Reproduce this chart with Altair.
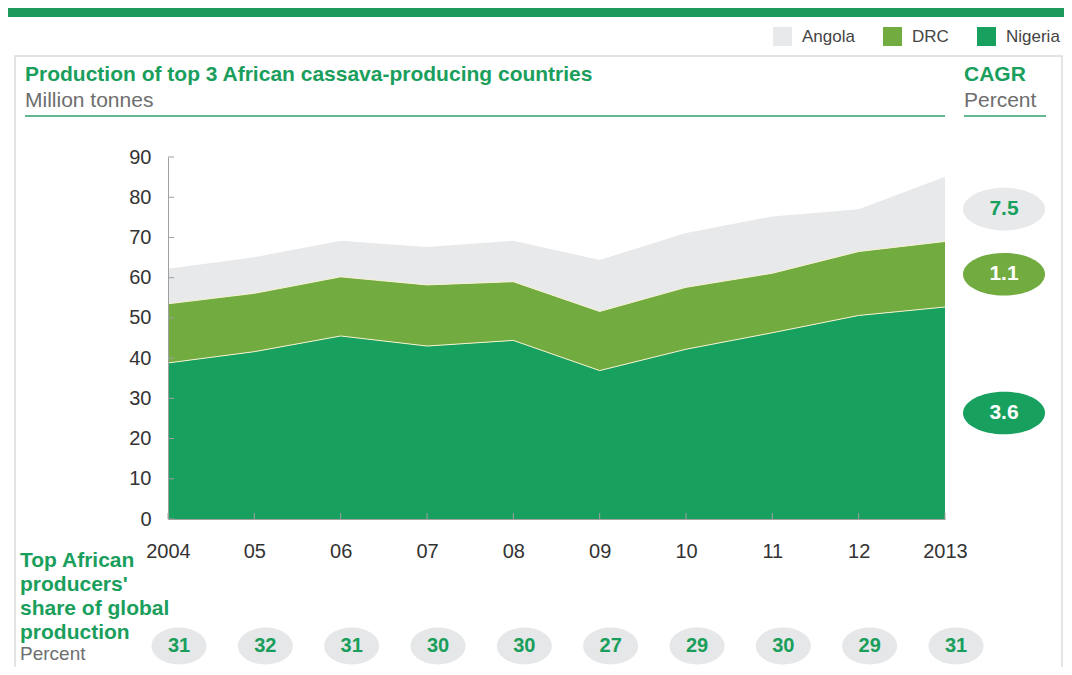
import altair as alt
import pandas as pd

# ---------------- data ----------------
years = [2004, 2005, 2006, 2007, 2008, 2009, 2010, 2011, 2012, 2013]
year_labels = ["2004", "05", "06", "07", "08", "09", "10", "11", "12", "2013"]
nigeria = [38.8, 41.6, 45.5, 43.0, 44.4, 36.9, 42.2, 46.3, 50.6, 52.7]
drc = [14.7, 14.5, 14.7, 15.2, 14.6, 14.7, 15.4, 14.8, 15.9, 16.3]
angola = [8.7, 9.0, 9.0, 9.4, 10.2, 12.8, 13.5, 14.1, 10.5, 16.1]
countries = ["Angola", "DRC", "Nigeria"]
colors = ["#E8E9EA", "#72AB3F", "#18A05E"]
cagr = [7.5, 1.1, 3.6]
cagr_text_colors = ["#18A05E", "#FFFFFF", "#FFFFFF"]
share = [31, 32, 31, 30, 30, 27, 29, 30, 29, 31]
y_ticks = [0, 10, 20, 30, 40, 50, 60, 70, 80, 90]

title_main = "Production of top 3 African cassava-producing countries"
title_unit = "Million tonnes"
cagr_title = "CAGR"
cagr_unit = "Percent"
share_caption = ["Top African", "producers'", "share of global", "production"]
share_unit = "Percent"

GREEN = "#1A9E5C"
GREY_TXT = "#6E6E6E"
FONT = "Liberation Sans"

# ---------------- tables ----------------
series = {"Nigeria": nigeria, "DRC": drc, "Angola": angola}
rank = {"Nigeria": 0, "DRC": 1, "Angola": 2}
rows = []
for c, vals in series.items():
    for lab, v in zip(year_labels, vals):
        rows.append({"label": lab, "country": c, "value": v, "rank": rank[c]})
df = pd.DataFrame(rows)

# boundaries between stacked layers
brows = []
for i, lab in enumerate(year_labels):
    brows.append({"label": lab, "edge": "n", "top": nigeria[i]})
    brows.append({"label": lab, "edge": "d", "top": nigeria[i] + drc[i]})
dfb = pd.DataFrame(brows)

# CAGR bubbles placed at the middle of each layer in the final year
n_last, d_last, a_last = nigeria[-1], drc[-1], angola[-1]
mids = {
    "Nigeria": n_last / 2,
    "DRC": n_last + d_last / 2,
    "Angola": n_last + d_last + a_last / 2,
}
dfc = pd.DataFrame({
    "country": countries,
    "cagr": [f"{v:.1f}" for v in cagr],
    "mid": [mids[c] for c in countries],
    "fill": colors,
    "tcol": cagr_text_colors,
})

dfs = pd.DataFrame({"label": year_labels, "share": share})
dft = pd.DataFrame({"v": y_ticks})
one = pd.DataFrame({"a": [0]})

xenc = alt.X("label:O", sort=year_labels,
             scale=alt.Scale(type="point", padding=0),
             axis=alt.Axis(title=None, labelAngle=0, tickSize=0, labelPadding=22,
                           labelFontSize=20, labelColor="#333", labelFont=FONT,
                           domainColor="#A0A0A0", domainWidth=1, zindex=1))
yscale = alt.Scale(domain=[0, 90], nice=False)

area = alt.Chart(df).mark_area(opacity=1, interpolate="linear").encode(
    x=xenc,
    y=alt.Y("value:Q", stack="zero", scale=yscale,
            axis=alt.Axis(title=None, values=y_ticks, tickSize=0, labelPadding=17,
                          labelFontSize=20, labelColor="#333", labelFont=FONT,
                          domainColor="#A0A0A0", domainWidth=1, grid=False, zindex=1)),
    color=alt.Color("country:N",
                    scale=alt.Scale(domain=countries, range=colors),
                    legend=alt.Legend(title=None, orient="none", direction="horizontal",
                                      legendX=605, legendY=-130,
                                      symbolType="square", symbolSize=361,
                                      symbolStrokeWidth=0, symbolOpacity=1,
                                      labelFontSize=17, labelColor="#444", labelFont=FONT,
                                      labelOffset=10, columnPadding=28)),
    order=alt.Order("rank:Q"),
)

edges = alt.Chart(dfb).mark_line(color="#F4F1CF", strokeWidth=1).encode(
    x=alt.X("label:O", sort=year_labels), y=alt.Y("top:Q", scale=yscale), detail="edge:N")

xticks = alt.Chart(dfs).mark_rule(color="#A0A0A0").encode(
    x=alt.X("label:O", sort=year_labels), y=alt.value(356), y2=alt.value(362))
yticks = alt.Chart(dft).mark_rule(color="#A0A0A0").encode(
    x=alt.value(0), x2=alt.value(6), y=alt.Y("v:Q", scale=yscale))

cagr_shape = "M -1,0 A 1,0.52 0 1,1 1,0 A 1,0.52 0 1,1 -1,0 Z"
cagr_pts = alt.Chart(dfc).mark_point(shape=cagr_shape, filled=True, opacity=1, size=82 * 82).encode(
    x=alt.value(836), y=alt.Y("mid:Q", scale=yscale), color=alt.Color("fill:N", scale=None))
cagr_txt = alt.Chart(dfc).mark_text(fontSize=21, fontWeight="bold", font=FONT).encode(
    x=alt.value(836), y=alt.Y("mid:Q", scale=yscale), text="cagr:N",
    color=alt.Color("tcol:N", scale=None))

share_shape = "M -1,0 A 1,0.67 0 1,1 1,0 A 1,0.67 0 1,1 -1,0 Z"
share_pts = alt.Chart(dfs).mark_point(shape=share_shape, filled=True, opacity=1, size=55 * 55,
                                      color="#E6E7E8", xOffset=11).encode(
    x=alt.X("label:O", sort=year_labels), y=alt.value(489))
share_txt = alt.Chart(dfs).mark_text(fontSize=20, fontWeight="bold", color=GREEN, font=FONT,
                                     xOffset=11).encode(
    x=alt.X("label:O", sort=year_labels), y=alt.value(489), text="share:Q")

ann = alt.Chart(one)
frame = ann.mark_rect(fill="white", stroke="#DADADA", strokeWidth=1.5).encode(
    x=alt.value(-153), x2=alt.value(894), y=alt.value(-101), y2=alt.value(530))
band = ann.mark_rect(fill="#1E9B5C").encode(
    x=alt.value(-170), x2=alt.value(910), y=alt.value(-160), y2=alt.value(-140))
t1 = ann.mark_text(text=title_main, align="left", baseline="middle", fontSize=21,
                   fontWeight="bold", color=GREEN, font=FONT).encode(x=alt.value(-143), y=alt.value(-82))
t2 = ann.mark_text(text=title_unit, align="left", baseline="middle", fontSize=21,
                   color=GREY_TXT, font=FONT).encode(x=alt.value(-143), y=alt.value(-56))
u1 = ann.mark_rule(color="#2E9E6B", strokeWidth=1.5).encode(
    x=alt.value(-143), x2=alt.value(777), y=alt.value(-41))
t3 = ann.mark_text(text=cagr_title, align="left", baseline="middle", fontSize=21,
                   fontWeight="bold", color=GREEN, font=FONT).encode(x=alt.value(796), y=alt.value(-82))
t4 = ann.mark_text(text=cagr_unit, align="left", baseline="middle", fontSize=21,
                   color=GREY_TXT, font=FONT).encode(x=alt.value(796), y=alt.value(-56))
u2 = ann.mark_rule(color="#2E9E6B", strokeWidth=1.5).encode(
    x=alt.value(796), x2=alt.value(878), y=alt.value(-41))
cap = ann.mark_text(text=share_caption, align="left", baseline="top", fontSize=21,
                    fontWeight="bold", color=GREEN, font=FONT, lineHeight=24).encode(
    x=alt.value(-148), y=alt.value(393))
cap2 = ann.mark_text(text=share_unit, align="left", baseline="alphabetic", fontSize=19,
                     color=GREY_TXT, font=FONT).encode(x=alt.value(-148), y=alt.value(503))

chart = alt.layer(
    frame, band, area, edges, xticks, yticks, cagr_pts, cagr_txt, share_pts, share_txt,
    t1, t2, u1, t3, t4, u2, cap, cap2,
).properties(
    width=777, height=362,
    autosize=alt.AutoSizeParams(type="none"),
    padding={"left": 160, "top": 149, "right": 119, "bottom": 148},
    background="white",
).configure_view(stroke=None)

chart.save("out.html", embed_options={"renderer": "svg", "actions": False})
